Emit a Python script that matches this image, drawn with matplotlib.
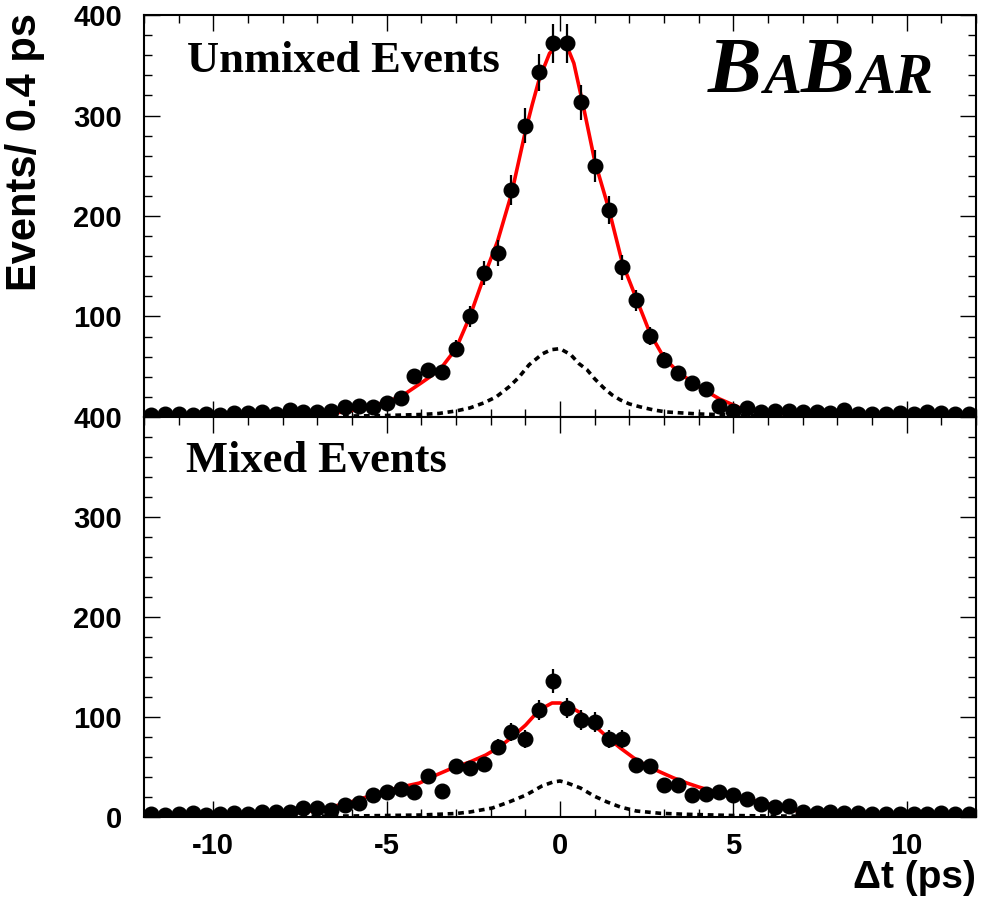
import numpy as np
import matplotlib
matplotlib.use("Agg")
import matplotlib.pyplot as plt
from matplotlib.ticker import MultipleLocator

plt.rcParams['font.family'] = ['Liberation Sans', 'DejaVu Sans']
plt.rcParams['font.weight'] = 'bold'
plt.rcParams['axes.unicode_minus'] = False

############## DATA #########################################################

bin_width = 0.4   # ps
t_min = -12.0

# unmixed events per 0.4 ps bin, from -12 to 12 ps
unmixed_counts = [2, 3, 3, 2, 3, 2, 4, 4, 5, 3, 7, 5, 5, 6, 10, 11, 10, 14, 19,
                  41, 47, 45, 68, 100, 143, 163, 226, 290, 343, 372,
                  372, 313, 250, 206, 149, 116, 81, 57, 44, 34,
                  28, 11, 6, 9, 5, 6, 6, 5, 5, 4, 7, 3, 3, 3, 4, 3, 5, 4, 3, 3]

# mixed events per 0.4 ps bin
mixed_counts = [3, 2, 3, 4, 2, 3, 4, 3, 5, 5, 5, 9, 9, 7, 12, 14, 22, 25, 28, 25,
                41, 26, 51, 49, 53, 70, 85, 78, 107, 136,
                109, 97, 95, 78, 78, 52, 51, 32, 32, 22,
                23, 25, 22, 18, 13, 10, 11, 5, 4, 5, 4, 4, 3, 3, 3, 3, 3, 4, 3, 3]

# fit curves (total) and background component
unmixed_fit_t = [-12, -10, -8, -7, -6.2, -5.3, -4.6, -4.0, -3.75, -3.4, -3.0, -2.6,
                 -2.2, -1.8, -1.4, -1.0, -0.8, -0.6, -0.3, 0.0, 0.2, 0.4, 0.65, 1.0,
                 1.4, 1.8, 2.2, 2.6, 3.0, 3.4, 3.8, 4.1, 4.6, 5.2, 6.0, 7.0, 8.0, 10, 12]
unmixed_fit = [1, 1.5, 2, 3, 5, 12, 20, 34, 40, 50, 68, 100,
               139, 175, 222, 284, 311, 336, 362, 371, 369, 352, 313, 255,
               208, 153, 118, 83, 59, 45, 35, 28, 18, 9, 4, 2.5, 2, 1.5, 1]

unmixed_bkg_t = [-12, -6, -5, -4, -3.5, -3, -2.6, -2.2, -1.84, -1.47, -1.2, -0.89,
                 -0.5, -0.25, 0, 0.31, 0.55, 0.78, 1.0, 1.26, 1.5, 1.74, 2.0, 2.32,
                 2.7, 3.07, 4.0, 5, 6, 12]
unmixed_bkg = [0.5, 1, 1.5, 2.5, 3.5, 6, 9, 14, 20, 30, 39, 52,
               63, 67, 68, 62, 53, 47, 38, 29, 22, 17, 13, 10,
               7, 5, 3, 2, 1, 0.5]

mixed_fit_t = [-12, -10, -8.3, -7.36, -6.59, -5.83, -5.26, -4.58, -4.05, -3.57, -3.1,
               -2.6, -2.14, -1.75, -1.38, -0.99, -0.6, -0.23, 0.0, 0.21, 0.59, 0.98,
               1.36, 1.74, 2.13, 2.51, 2.89, 3.28, 3.66, 4.0, 4.4, 4.95, 5.91, 6.68,
               7.63, 9, 12]
mixed_fit = [1, 1.5, 3, 5, 10, 17, 24, 30, 34, 42, 49,
             55, 62, 70, 80, 92, 107, 114, 114, 112, 104, 92,
             80, 69, 59, 51, 45, 39, 34, 30, 26, 22, 14, 7,
             3, 1.5, 1]

mixed_bkg_t = [-12, -6, -4, -3, -2.6, -1.95, -1.47, -0.98, -0.52, -0.2, 0, 0.21,
               0.59, 0.98, 1.36, 1.74, 2.2, 2.89, 3.66, 5, 6, 12]
mixed_bkg = [0.5, 1, 2, 3.5, 5, 9, 15, 22, 31, 35, 36, 34,
             29, 21, 15, 10, 6, 3.7, 2.7, 1.5, 1, 0.5]

y_major = [0, 100, 200, 300, 400]

############## FIGURE ########################################################

fig = plt.figure(figsize=(9.82, 9.06), dpi=100)
ax1 = fig.add_axes([0.14664, 0.53974, 0.84725, 0.44370])
ax2 = fig.add_axes([0.14664, 0.09823, 0.84725, 0.44151])

panels = [(ax1, unmixed_counts, unmixed_fit_t, unmixed_fit, unmixed_bkg_t, unmixed_bkg),
          (ax2, mixed_counts, mixed_fit_t, mixed_fit, mixed_bkg_t, mixed_bkg)]

for ax, counts, ft, fv, bt, bv in panels:
    counts = np.array(counts, dtype=float)
    centers = t_min + bin_width * (np.arange(len(counts)) + 0.5)
    ax.plot(ft, fv, color='#ff0000', lw=2.6, zorder=2)
    ax.plot(bt, bv, color='black', lw=2.6, linestyle=(0, (1.6, 1.3)), zorder=2)
    ax.errorbar(centers, counts, yerr=np.sqrt(counts), fmt='o', color='black',
                ms=10.5, elinewidth=1.6, capsize=0, zorder=3)
    ax.set_xlim(-12, 12)
    ax.set_ylim(0, 400)
    ax.set_yticks(y_major)
    ax.xaxis.set_major_locator(MultipleLocator(5))
    ax.xaxis.set_minor_locator(MultipleLocator(1))
    ax.yaxis.set_minor_locator(MultipleLocator(20))
    ax.tick_params(which='both', direction='in', top=True, right=True, width=1.0,
                   labelsize=21)
    ax.tick_params(which='major', length=11.5)
    ax.tick_params(which='minor', length=6)
    ax.tick_params(axis='y', pad=16)
    ax.tick_params(axis='x', pad=11)
    for s in ax.spines.values():
        s.set_linewidth(1.5)

# top panel: no 0 label, no x labels
ax1.set_yticklabels(['', '100', '200', '300', '400'])
ax1.tick_params(axis='x', labelbottom=False)
ax2.set_yticklabels(['0', '100', '200', '300', '400'])

ax1.set_ylabel('Events/ 0.4 ps', loc='top', fontsize=30, fontweight='bold')
ax1.yaxis.set_label_coords(-0.1190, 1.005)
ax2.set_xlabel('\u0394t (ps)', loc='right', fontsize=28, fontweight='bold')
ax2.xaxis.set_label_coords(1.0, -0.108)

# panel titles
ax1.text(0.0517, 0.858, 'Unmixed Events', transform=ax1.transAxes,
         family='Liberation Serif', fontweight='bold', fontsize=32, va='baseline')
ax2.text(0.0505, 0.8625, 'Mixed Events', transform=ax2.transAxes,
         family='Liberation Serif', fontweight='bold', fontsize=32, va='baseline')

# BABAR logo in small caps
logo = [('B', 0.678, 58), ('A', 0.745, 41), ('B', 0.789, 58), ('A', 0.858, 41), ('R', 0.901, 41)]
for letter, xpos, size in logo:
    ax1.text(xpos, 0.805, letter, transform=ax1.transAxes, family='Liberation Serif',
             fontweight='bold', style='italic', fontsize=size, va='baseline')

fig.savefig('out.png', dpi=100)
